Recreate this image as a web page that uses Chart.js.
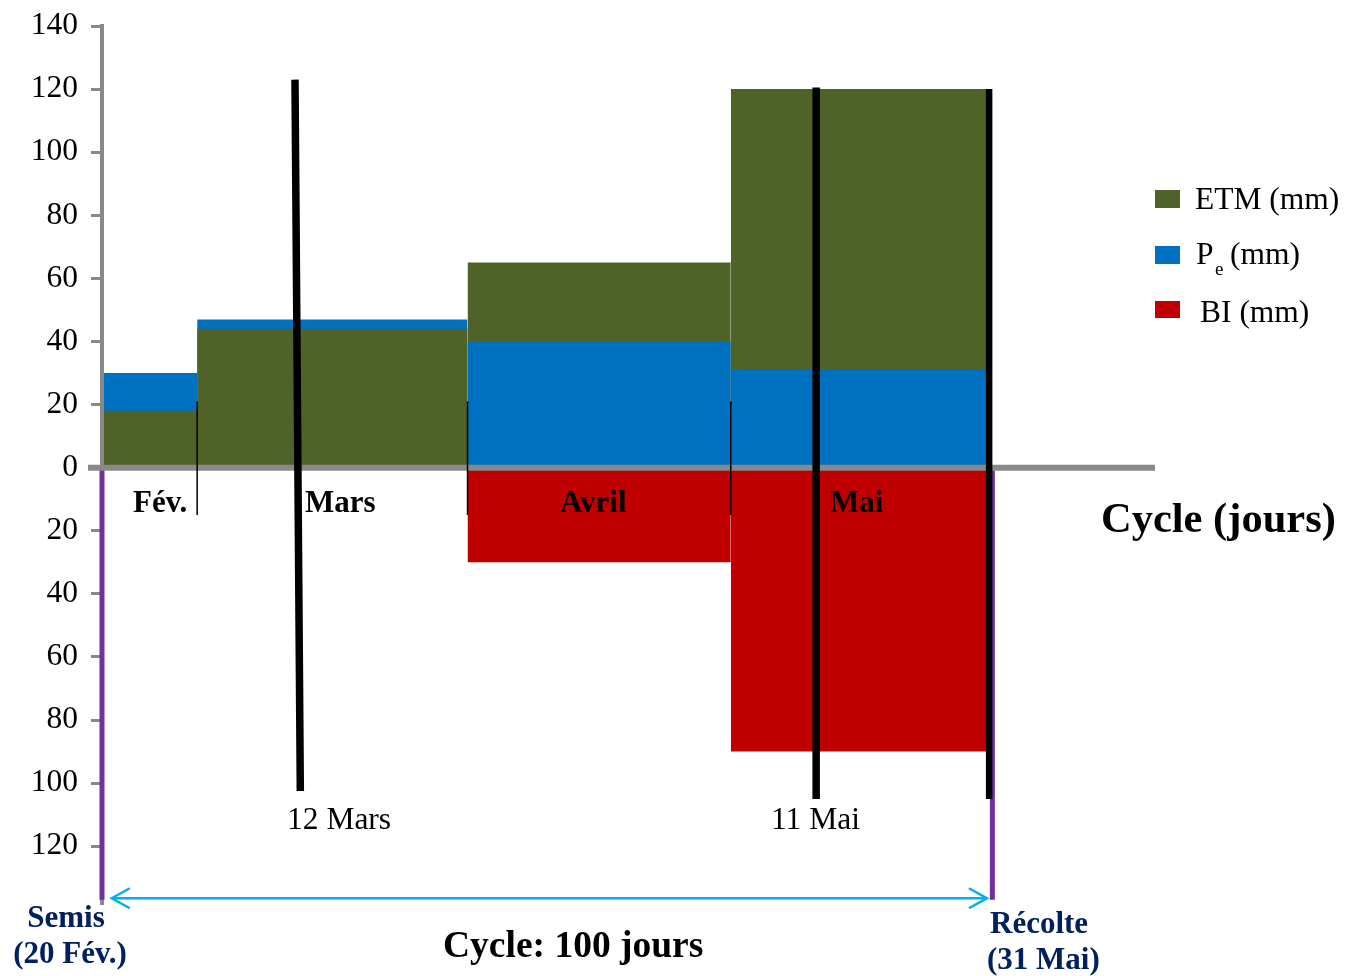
<!DOCTYPE html>
<html><head><meta charset="utf-8">
<script src="https://cdn.jsdelivr.net/npm/chart.js@4/dist/chart.umd.min.js"></script>
<style>html,body{margin:0;padding:0;background:#fff;} canvas{display:block;}</style>
</head><body>
<canvas id="c" width="1357" height="976"></canvas>
<script>
// ---- data ----
const months = ['Fév.', 'Mars', 'Avril', 'Mai'];
const monthStartDay = [0, 10.7, 41.1, 70.7];   // days after sowing (20 Feb)
const cycleEndDay = 100;                          // harvest (31 May)
const etm = [18, 44, 65, 120];                    // ETM (mm)
const pe  = [30, 47, 40, 31];                     // Pe (mm)
const bi  = [0, 0, 30, 90];                       // BI (mm), drawn downward
const markerLabels = ['12 Mars', '11 Mai'];
const markerLines = [ // [dayTop, valueTop, dayBottom, valueBottom]
  [21.7, 123, 22.3, -102.5],
  [80.3, 120.5, 80.3, -105],
  [99.75, 120, 99.75, -105]
];
const legendLabels = ['ETM (mm)', 'P', 'BI (mm)'];

const GREEN = '#4F6228', BLUE = '#0070C0', RED = '#C00000';
const GRAY = '#898989', PURPLE = '#7030A0', CYAN = '#00B0F0', NAVY = '#002060';
const SERIF = "'Liberation Serif', 'Times New Roman', serif";

function monthEnd(i){ return i + 1 < monthStartDay.length ? monthStartDay[i+1] : cycleEndDay; }
function rects(vals, include, sign){
  const pts = [];
  vals.forEach((v, i) => {
    if (!include(i)) return;
    pts.push({x: monthStartDay[i], y: sign * v}, {x: monthEnd(i), y: sign * v}, {x: monthEnd(i), y: null});
  });
  return pts;
}
function ds(label, data, color, order){
  return {label, data, order, backgroundColor: color, borderColor: 'rgba(0,0,0,0)', borderWidth: 0,
    pointRadius: 0, pointHoverRadius: 0, fill: 'origin', tension: 0, spanGaps: false};
}

const datasets = [
  ds('Pe (mm)', rects(pe, i => pe[i] > etm[i], 1), BLUE, 4),
  ds('ETM (mm)', rects(etm, () => true, 1), GREEN, 3),
  ds('Pe (mm)', rects(pe, i => pe[i] <= etm[i], 1), BLUE, 2),
  ds('BI (mm)', rects(bi, i => bi[i] > 0, -1), RED, 1)
];

const overlay = {
  id: 'overlay',
  afterDatasetsDraw(chart){
    const {ctx, chartArea: a, scales: {x, y}} = chart;
    const X = v => x.getPixelForValue(v), Y = v => y.getPixelForValue(v);
    ctx.save();
    // y axis line redrawn above bars
    ctx.strokeStyle = GRAY; ctx.lineWidth = 4;
    ctx.beginPath(); ctx.moveTo(a.left, a.top); ctx.lineTo(a.left, Y(0)); ctx.stroke();
    // zero line
    ctx.lineWidth = 6;
    ctx.beginPath(); ctx.moveTo(a.left - 14, Y(0)); ctx.lineTo(a.right, Y(0)); ctx.stroke();
    // purple sowing / harvest lines
    ctx.strokeStyle = PURPLE; ctx.lineWidth = 5;
    ctx.beginPath(); ctx.moveTo(X(0), Y(0) + 3); ctx.lineTo(X(0), Y(-137)); ctx.stroke();
    ctx.beginPath(); ctx.moveTo(X(cycleEndDay) + 1, Y(0) + 3); ctx.lineTo(X(cycleEndDay) + 1, Y(-137)); ctx.stroke();
    // thin month separators
    ctx.strokeStyle = '#000'; ctx.lineWidth = 1.5;
    for (let i = 1; i < monthStartDay.length; i++){
      ctx.beginPath(); ctx.moveTo(X(monthStartDay[i]), Y(21)); ctx.lineTo(X(monthStartDay[i]), Y(-15)); ctx.stroke();
    }
    // thick marker lines
    markerLines.forEach((m, k) => {
      ctx.lineWidth = k === 2 ? 6.5 : 7.5;
      ctx.beginPath(); ctx.moveTo(X(m[0]), Y(m[1])); ctx.lineTo(X(m[2]), Y(m[3])); ctx.stroke();
    });
    // cycle arrow
    const ay = Y(-136.5), ax1 = X(1.1), ax2 = X(99.5);
    ctx.strokeStyle = CYAN; ctx.lineWidth = 2.5;
    ctx.beginPath(); ctx.moveTo(ax1, ay); ctx.lineTo(ax2, ay); ctx.stroke();
    ctx.beginPath(); ctx.moveTo(ax1 + 18, ay - 10); ctx.lineTo(ax1, ay); ctx.lineTo(ax1 + 18, ay + 10); ctx.stroke();
    ctx.beginPath(); ctx.moveTo(ax2 - 18, ay - 10); ctx.lineTo(ax2, ay); ctx.lineTo(ax2 - 18, ay + 10); ctx.stroke();

    // texts
    ctx.textBaseline = 'middle'; ctx.textAlign = 'left'; ctx.fillStyle = '#000';
    ctx.font = 'bold 31px ' + SERIF;
    const monthLabelX = [133, 305, 560, 830];
    months.forEach((m, i) => ctx.fillText(m, monthLabelX[i], 504));
    ctx.font = 'bold 42.5px ' + SERIF;
    ctx.fillText('Cycle (jours)', 1101, 521);
    ctx.font = '31.5px ' + SERIF;
    ctx.fillText(markerLabels[0], 287, 821);
    ctx.fillText(markerLabels[1], 771, 821);
    ctx.font = 'bold 37.5px ' + SERIF;
    ctx.fillText('Cycle: 100 jours', 443, 947);
    ctx.fillStyle = NAVY; ctx.font = 'bold 31px ' + SERIF;
    ctx.textAlign = 'center';
    ctx.fillText('Semis', 66, 919);
    ctx.fillText('(20 Fév.)', 70, 955);
    ctx.textAlign = 'left';
    ctx.fillText('Récolte', 990, 925);
    ctx.fillText('(31 Mai)', 987, 961);

    // legend
    ctx.fillStyle = GREEN; ctx.fillRect(1155, 190, 25, 18);
    ctx.fillStyle = BLUE; ctx.fillRect(1155, 246, 25, 18);
    ctx.fillStyle = RED; ctx.fillRect(1155, 301, 25, 17);
    ctx.fillStyle = '#000'; ctx.font = '31.5px ' + SERIF;
    ctx.fillText(legendLabels[0], 1195, 201);
    ctx.fillText(legendLabels[1], 1196, 256);
    ctx.font = '19px ' + SERIF;
    ctx.fillText('e', 1215, 270);
    ctx.font = '31.5px ' + SERIF;
    ctx.fillText('(mm)', 1230, 256);
    ctx.fillText(legendLabels[2], 1200, 314);
    ctx.restore();
  }
};

new Chart(document.getElementById('c'), {
  type: 'line',
  data: {datasets},
  options: {
    responsive: false, animation: false, devicePixelRatio: 1,
    layout: {padding: {left: 30, right: 202, top: 26, bottom: 73}},
    plugins: {legend: {display: false}, tooltip: {enabled: false}},
    events: [],
    scales: {
      x: {type: 'linear', min: 0, max: 118.4, display: false},
      y: {
        type: 'linear', min: -138, max: 140,
        afterFit(s){ s.width = 72; s.paddingTop = 0; s.paddingBottom = 0; },
        border: {display: true, color: GRAY, width: 4},
        grid: {display: true, drawOnChartArea: false, drawTicks: true, tickLength: 11, tickColor: GRAY, lineWidth: 3},
        ticks: {stepSize: 20, includeBounds: false, padding: 13, color: '#000',
          font: {family: SERIF, size: 31.5}, callback: v => String(Math.abs(v))}
      }
    }
  },
  plugins: [overlay]
});
</script>
</body></html>
